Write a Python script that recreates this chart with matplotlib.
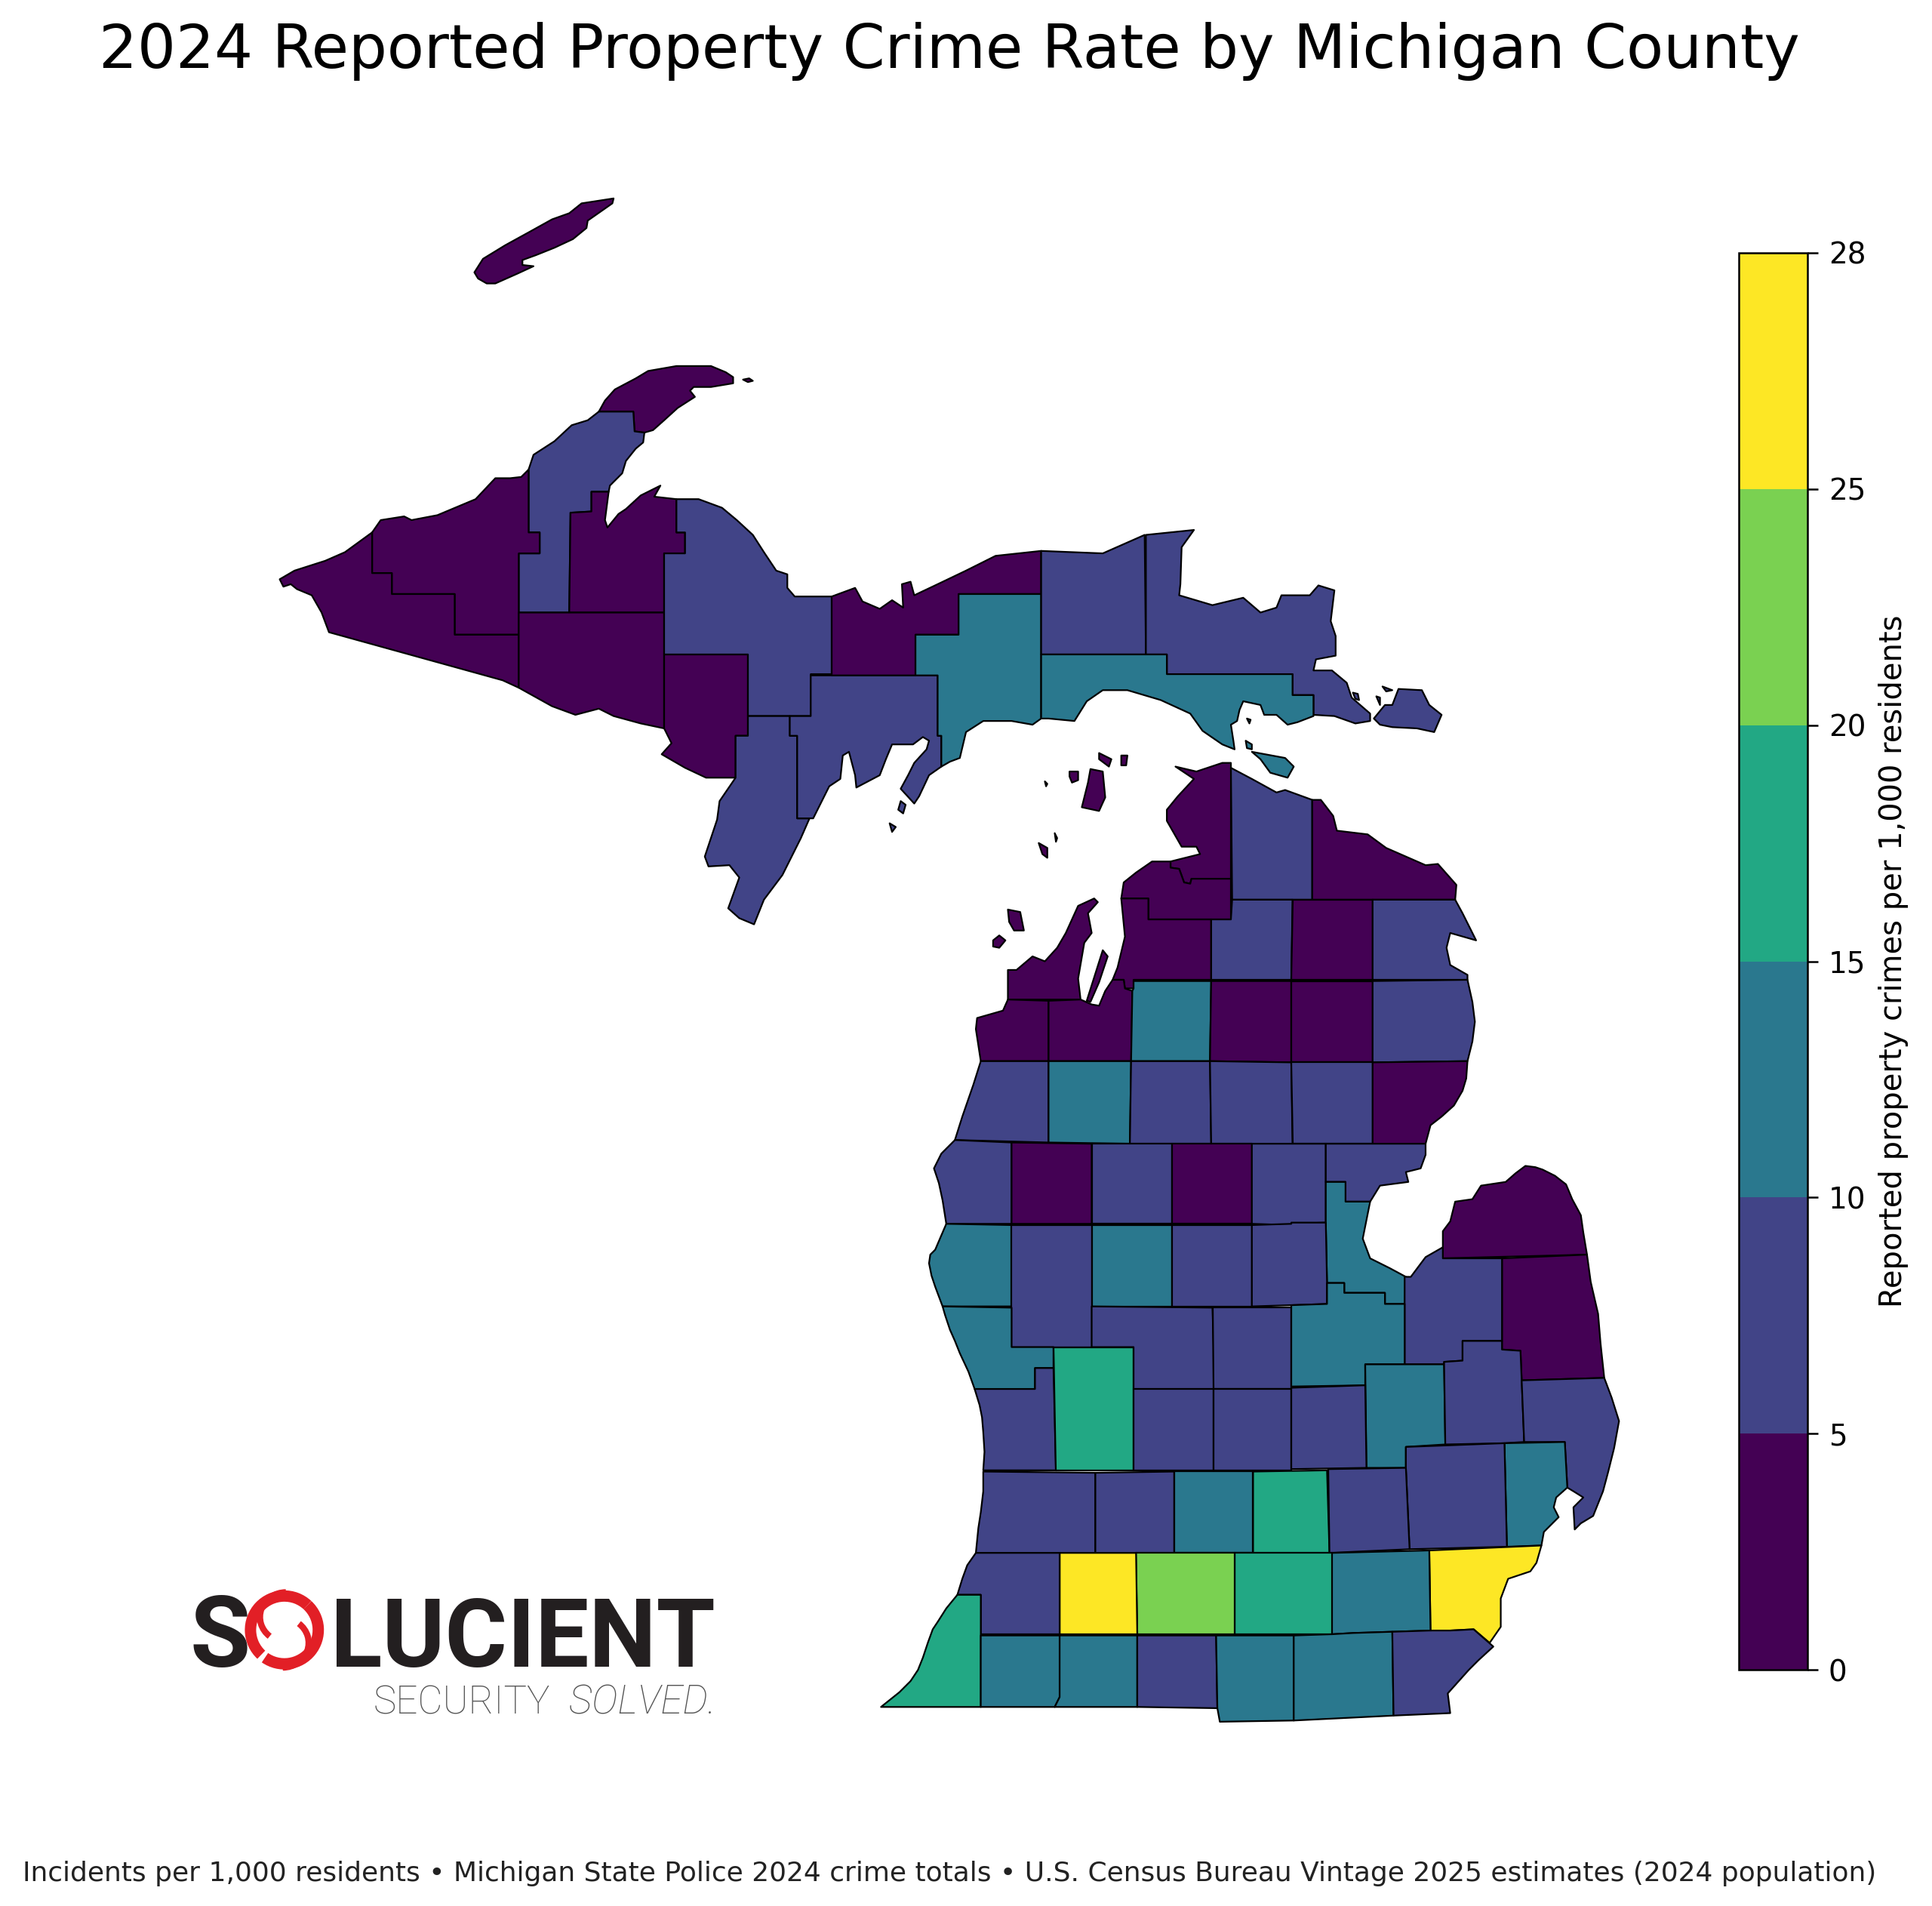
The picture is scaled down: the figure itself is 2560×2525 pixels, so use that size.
import matplotlib
matplotlib.use("Agg")
import matplotlib.pyplot as plt
from matplotlib.collections import PolyCollection
from matplotlib.colors import BoundaryNorm, ListedColormap
from matplotlib.cm import ScalarMappable
from matplotlib.patches import Arc

TITLE = "2024 Reported Property Crime Rate by Michigan County"
FOOTER = ("Incidents per 1,000 residents \u2022 Michigan State Police 2024 crime totals "
          "\u2022 U.S. Census Bureau Vintage 2025 estimates (2024 population)")
CBAR_LABEL = "Reported property crimes per 1,000 residents"
BIN_EDGES = [0, 5, 10, 15, 20, 25, 28]
BIN_COLORS = ["#440154", "#414487", "#2A788E", "#22A884", "#7AD151", "#FDE725"]

# Map geometry (map units, y downward); each county has one or more rings.
SHAPES = {
"Keweenaw": [[(486,334),(491,325),(499,316),(516,307),(526,301),(549,297),(577,297),(589,302),(595,306),(595,311),(577,314),(563,314),(560,317),(564,322),(550,331),(539,341),(530,349),(523,351),(515,350),(514,334)],
             [(603,308),(608,307),(611,309),(607,310)],
             [(385,221),(392,210),(410,199),(430,188),(448,178),(462,173),(472,165),(485,163),(498,161),(497,165),(487,172),(477,179),(476,185),(465,194),(450,201),(435,207),(424,211),(424,215),(433,216),(420,222),(402,230),(395,230),(388,226)]],
"Houghton": [[(486,334),(514,334),(515,350),(523,351),(522,359),(516,364),(508,374),(505,384),(495,394),(494,399),(480,399),(480,415),(463,416),(462,497),(421,497),(421,449),(438,449),(438,432),(429,432),(429,381),(433,369),(450,358),(464,345),(477,341)]],
"Ontonagon": [[(302,432),(309,422),(328,419),(334,422),(355,418),(386,405),(402,388),(414,388),(423,387),(429,381),(429,432),(438,432),(438,449),(421,449),(421,515),(369,515),(369,482),(318,482),(318,465),(302,465)]],
"Gogebic": [[(227,470),(239,463),(264,455),(280,448),(302,432),(302,465),(318,465),(318,482),(369,482),(369,515),(421,515),(421,558),(408,552),(267,513),(261,497),(253,483),(241,478),(236,474),(230,476)]],
"Baraga": [[(480,399),(494,399),(491,422),(493,428),(502,417),(508,413),(520,402),(536,394),(531,403),(549,405),(549,432),(556,432),(556,449),(539,449),(539,497),(462,497),(463,416),(480,415)]],
"Iron": [[(421,497),(539,497),(539,591),(520,587),(498,581),(486,575),(467,580),(448,573),(421,558)]],
"Dickinson": [[(539,531),(607,531),(607,597),(597,597),(597,631),(573,631),(556,623),(537,612),(545,603),(539,591)]],
"Marquette": [[(549,405),(567,405),(586,412),(598,422),(611,434),(620,448),(630,463),(639,466),(639,477),(645,484),(675,484),(675,547),(658,547),(658,581),(607,581),(607,531),(539,531),(539,449),(556,449),(556,432),(549,432)]],
"Menominee": [[(607,581),(641,581),(641,597),(647,597),(647,664),(657,664),(650,680),(635,710),(620,730),(612,750),(600,745),(591,737),(600,712),(592,702),(575,703),(572,695),(582,665),(584,650),(597,631),(597,597),(607,597)]],
"Delta": [[(641,581),(658,581),(658,548),(761,548),(761,597),(764,597),(764,622),(754,629),(746,646),(742,652),(731,640),(737,629),(742,619),(752,608),(754,601),(749,598),(741,604),(724,604),(719,616),(714,629),(695,639),(694,629),(689,610),(684,613),(682,632),(673,638),(660,664),(647,664),(647,597),(641,597)],
          [(722,668),(727,671),(724,675)],[(731,650),(735,653),(733,660),(729,657)]],
"Alger": [[(675,484),(694,477),(700,488),(714,494),(724,487),(733,493),(732,474),(739,472),(742,483),(761,474),(784,463),(808,451),(845,447),(845,482),(778,482),(778,515),(743,515),(743,548),(675,548)]],
"Schoolcraft": [[(778,482),(845,482),(845,583),(838,588),(821,585),(798,585),(784,594),(779,615),(771,618),(764,622),(764,597),(761,597),(761,548),(743,548),(743,515),(778,515)]],
"Luce": [[(845,447),(895,449),(929,434),(930,531),(845,531)]],
"Chippewa": [[(930,434),(969,430),(959,444),(958,474),(957,483),(984,491),(1009,485),(1023,497),(1036,493),(1040,483),(1063,483),(1070,475),(1083,479),(1080,504),(1084,516),(1084,532),(1068,535),(1066,544),(1081,544),(1093,554),(1097,566),(1112,579),(1112,585),(1100,587),(1083,581),(1066,580),(1066,564),(1049,564),(1049,547),(947,547),(947,531),(930,531)],
             [(1115,583),(1124,572),(1130,572),(1135,559),(1154,560),(1160,572),(1170,580),(1164,594),(1150,591),(1130,590),(1120,588)],
             [(1098,562),(1102,563),(1103,568),(1100,567)],[(1122,557),(1130,560),(1125,561)],[(1117,565),(1120,566),(1120,572)]],
"Mackinac": [[(845,531),(947,531),(947,547),(1049,547),(1049,564),(1066,564),(1066,581),(1053,586),(1045,588),(1036,580),(1026,580),(1023,572),(1009,569),(1006,576),(1004,585),(999,588),(1001,601),(1002,608),(992,604),(976,593),(966,579),(942,568),(915,560),(895,560),(882,569),(872,585),(851,583),(845,583)],
             [(1016,610),(1043,615),(1050,622),(1045,631),(1031,627),(1023,616)],[(1011,601),(1016,604),(1016,608),(1012,607)],[(1012,583),(1015,584),(1014,587)]],
"Emmet": [[(954,622),(971,626),(992,619),(999,619),(999,713),(967,713),(966,717),(961,716),(957,705),(950,704),(950,699),(974,693),(971,687),(959,687),(947,666),(947,657),(956,646),(969,632)]],
"Charlevoix": [[(950,699),(950,704),(957,705),(961,716),(966,717),(967,713),(999,713),(999,746),(932,746),(932,729),(910,729),(912,716),(922,708),(935,699)],
               [(885,624),(895,626),(897,647),(892,658),(878,655),(883,635)],[(892,611),(902,616),(900,622),(892,616)],[(910,613),(915,613),(914,621),(910,621)],[(868,626),(875,626),(875,633),(870,635),(868,630)],[(848,634),(850,636),(849,638)]],
"Cheboygan": [[(999,623),(1016,632),(1036,643),(1043,641),(1065,649),(1065,730),(1000,730)]],
"PresqueIsle": [[(1065,649),(1072,649),(1082,662),(1085,674),(1110,677),(1125,688),(1157,702),(1167,701),(1182,718),(1181,730),(1065,730)]],
"Antrim": [[(910,729),(932,729),(932,746),(983,746),(983,795),(920,795),(920,802),(913,802),(912,795),(903,795),(907,785),(913,760)]],
"Otsego": [[(983,746),(999,746),(1000,730),(1049,730),(1048,795),(983,795)]],
"Montmorency": [[(1049,730),(1114,730),(1114,795),(1048,795)]],
"Alpena": [[(1114,730),(1181,730),(1187,741),(1198,763),(1177,757),(1174,769),(1177,783),(1191,791),(1191,795),(1114,795)]],
"Leelanau": [[(818,811),(818,787),(825,787),(838,776),(848,780),(858,769),(865,757),(875,735),(888,729),(891,732),(883,741),(886,757),(880,765),(875,794),(877,811)],
             [(818,738),(828,740),(831,755),(823,755),(819,748)],[(806,763),(811,759),(816,763),(811,769),(806,768)],[(843,684),(850,688),(850,696),(846,693)],[(856,676),(858,680),(857,683)]],
"Benzie": [[(851,812),(818,811),(814,820),(793,826),(792,835),(796,861),(851,861)]],
"GrandTraverse": [[(851,812),(877,811),(886,815),(892,816),(897,804),(903,795),(912,795),(913,802),(919,804),(918,861),(851,861)],
                  [(882,812),(895,771),(899,776),(892,797),(885,813)]],
"Kalkaska": [[(920,796),(983,796),(982,861),(918,861),(919,804),(920,802)]],
"Crawford": [[(983,796),(1048,796),(1048,862),(982,861)]],
"Oscoda": [[(1048,796),(1114,796),(1114,862),(1048,862)]],
"Alcona": [[(1114,796),(1191,795),(1195,813),(1197,829),(1195,845),(1191,861),(1114,862)]],
"Manistee": [[(796,861),(851,861),(851,927),(775,925),(781,906),(790,880)]],
"Wexford": [[(851,861),(918,861),(917,928),(851,927)]],
"Missaukee": [[(918,861),(982,861),(983,928),(917,928)]],
"Roscommon": [[(982,861),(1048,862),(1049,928),(983,928)]],
"Ogemaw": [[(1048,862),(1114,862),(1114,928),(1049,928)]],
"Iosco": [[(1114,862),(1191,861),(1190,875),(1187,885),(1180,897),(1170,906),(1161,913),(1157,928),(1114,928)]],
"Mason": [[(775,925),(821,927),(821,993),(768,993),(765,974),(762,960),(758,948),(764,936)]],
"Lake": [[(821,927),(886,928),(886,993),(821,993)]],
"Osceola": [[(886,928),(951,928),(951,993),(886,993)]],
"Clare": [[(951,928),(1016,928),(1016,993),(951,993)]],
"Gladwin": [[(1016,928),(1076,928),(1076,992),(1048,993),(1048,994),(1016,993)]],
"Arenac": [[(1076,928),(1157,928),(1157,937),(1153,948),(1141,951),(1143,959),(1120,962),(1112,975),(1092,975),(1092,959),(1076,959)]],
"Bay": [[(1076,959),(1092,959),(1092,975),(1112,975),(1106,1005),(1112,1021),(1128,1029),(1141,1036),(1140,1058),(1124,1058),(1124,1049),(1091,1049),(1091,1041),(1077,1041),(1076,992)]],
"Huron": [[(1171,1021),(1171,999),(1177,991),(1181,975),(1195,973),(1202,962),(1222,959),(1230,952),(1238,946),(1246,947),(1252,949),(1262,954),(1271,961),(1276,973),(1283,986),(1285,1000),(1288,1018)]],
"Sanilac": [[(1219,1021),(1288,1018),(1291,1040),(1297,1066),(1299,1090),(1302,1118),(1235,1120),(1234,1096),(1219,1095)]],
"Tuscola": [[(1171,1012),(1171,1021),(1219,1021),(1219,1088),(1187,1088),(1187,1104),(1172,1105),(1172,1107),(1140,1107),(1140,1036),(1145,1036),(1157,1020)]],
"Oceana": [[(768,993),(821,994),(821,1060),(765,1060),(759,1044),(756,1035),(754,1025),(755,1018),(759,1014)]],
"Newaygo": [[(821,994),(886,994),(886,1093),(821,1093)]],
"Mecosta": [[(886,994),(951,994),(951,1060),(886,1060)]],
"Isabella": [[(951,994),(1016,994),(1016,1060),(951,1060)]],
"Midland": [[(1016,994),(1048,993),(1048,992),(1076,992),(1077,1041),(1077,1058),(1048,1059),(1016,1060)]],
"Muskegon": [[(765,1060),(821,1061),(821,1093),(855,1093),(855,1110),(840,1110),(840,1127),(791,1127),(786,1113),(779,1098),(775,1088),(771,1079),(767,1067)]],
"Ottawa": [[(791,1127),(840,1127),(840,1110),(855,1110),(857,1193),(798,1193),(799,1178),(798,1162),(797,1150),(795,1140)]],
"Kent": [[(855,1093),(920,1093),(920,1193),(857,1193)]],
"Montcalm": [[(886,1060),(984,1061),(985,1093),(985,1127),(920,1127),(920,1093),(886,1093)]],
"Gratiot": [[(984,1061),(1048,1061),(1048,1127),(985,1127)]],
"Saginaw": [[(1048,1059),(1077,1058),(1077,1041),(1091,1041),(1091,1049),(1124,1049),(1124,1058),(1140,1058),(1140,1107),(1108,1107),(1108,1124),(1048,1125)]],
"Genesee": [[(1108,1107),(1172,1107),(1173,1172),(1141,1174),(1141,1191),(1109,1191)]],
"Lapeer": [[(1172,1105),(1187,1104),(1187,1088),(1219,1088),(1219,1095),(1234,1096),(1235,1120),(1237,1170),(1221,1171),(1173,1172)]],
"StClair": [[(1235,1120),(1302,1118),(1308,1134),(1314,1153),(1310,1175),(1305,1195),(1301,1210),(1293,1230),(1283,1236),(1278,1241),(1277,1223),(1285,1215),(1277,1210),(1272,1207),(1270,1170),(1237,1170)]],
"Macomb": [[(1221,1171),(1270,1170),(1272,1207),(1263,1215),(1261,1223),(1265,1231),(1253,1243),(1251,1254),(1223,1255)]],
"Oakland": [[(1141,1174),(1221,1171),(1223,1255),(1144,1257),(1141,1191)]],
"Ionia": [[(920,1127),(985,1127),(985,1193),(920,1193)]],
"Clinton": [[(985,1127),(1048,1127),(1048,1193),(985,1193)]],
"Shiawassee": [[(1048,1126),(1108,1124),(1109,1191),(1048,1192)]],
"Allegan": [[(798,1194),(889,1195),(889,1260),(792,1260),(794,1240),(796,1227),(798,1210)]],
"Barry": [[(889,1195),(953,1194),(953,1260),(889,1260)]],
"Eaton": [[(953,1194),(1017,1194),(1017,1260),(953,1260)]],
"Ingham": [[(1017,1194),(1077,1193),(1079,1260),(1017,1260)]],
"Livingston": [[(1078,1192),(1141,1191),(1144,1257),(1079,1260)]],
"Wayne": [[(1160,1258),(1251,1254),(1247,1268),(1242,1275),(1224,1281),(1218,1297),(1218,1320),(1209,1333),(1196,1322),(1177,1323),(1161,1323)]],
"Washtenaw": [[(1081,1260),(1160,1258),(1161,1323),(1098,1325),(1081,1326)]],
"Jackson": [[(1002,1260),(1081,1260),(1081,1326),(1002,1326)]],
"Calhoun": [[(922,1260),(1002,1260),(1002,1326),(923,1326)]],
"Kalamazoo": [[(860,1260),(922,1260),(923,1326),(860,1326)]],
"VanBuren": [[(792,1260),(860,1260),(860,1326),(796,1326),(796,1294),(777,1294),(781,1281),(785,1270)]],
"Berrien": [[(777,1294),(796,1294),(796,1385),(715,1385),(730,1373),(739,1364),(745,1355),(749,1345),(753,1333),(757,1322),(761,1316),(768,1305)]],
"Cass": [[(796,1327),(860,1327),(860,1377),(856,1385),(796,1385)]],
"StJoseph": [[(860,1327),(923,1327),(923,1385),(856,1385),(860,1377)]],
"Branch": [[(923,1327),(987,1327),(988,1386),(923,1385)]],
"Hillsdale": [[(987,1327),(1050,1327),(1050,1396),(990,1397),(988,1386)]],
"Lenawee": [[(1050,1327),(1081,1326),(1098,1325),(1130,1324),(1131,1392),(1050,1396)]],
"Monroe": [[(1130,1324),(1161,1323),(1177,1323),(1196,1322),(1212,1336),(1200,1347),(1192,1355),(1175,1374),(1177,1390),(1131,1392)]],
}

# Rates are estimated within the colour class each county shows.
RATES = {
"Keweenaw":3.5,"Houghton":7.5,"Ontonagon":3.5,"Gogebic":4.0,"Baraga":4.0,"Iron":3.5,"Dickinson":4.5,"Marquette":8.0,
"Menominee":7.0,"Delta":8.0,"Alger":4.0,"Schoolcraft":11.0,"Luce":7.0,"Chippewa":8.5,"Mackinac":12.0,"Emmet":4.5,
"Charlevoix":4.5,"Cheboygan":8.0,"PresqueIsle":3.0,"Antrim":3.5,"Otsego":8.5,"Montmorency":3.5,"Alpena":8.0,
"Leelanau":2.5,"Benzie":3.5,"GrandTraverse":4.8,"Kalkaska":11.0,"Crawford":4.5,"Oscoda":3.0,"Alcona":6.0,
"Manistee":7.5,"Wexford":12.0,"Missaukee":6.0,"Roscommon":8.5,"Ogemaw":8.0,"Iosco":4.5,"Mason":8.0,"Lake":4.0,
"Osceola":7.0,"Clare":4.5,"Gladwin":6.5,"Arenac":7.5,"Bay":13.0,"Huron":3.5,"Sanilac":4.0,"Tuscola":6.5,
"Oceana":10.5,"Newaygo":7.5,"Mecosta":11.0,"Isabella":9.5,"Midland":7.5,"Muskegon":14.0,"Ottawa":8.0,"Kent":17.0,
"Montcalm":8.5,"Gratiot":8.0,"Saginaw":13.5,"Genesee":14.0,"Lapeer":6.5,"StClair":9.5,"Macomb":14.0,"Oakland":9.5,
"Ionia":7.5,"Clinton":6.0,"Shiawassee":8.0,"Allegan":7.5,"Barry":6.0,"Eaton":11.0,"Ingham":18.5,"Livingston":5.5,
"Wayne":27.0,"Washtenaw":13.0,"Jackson":17.5,"Calhoun":22.5,"Kalamazoo":26.0,"VanBuren":9.0,"Berrien":19.0,"Cass":10.5,
"StJoseph":11.5,"Branch":9.0,"Hillsdale":11.0,"Lenawee":11.5,"Monroe":9.5,
}

plt.rcParams["font.family"] = "DejaVu Sans"
fig = plt.figure(figsize=(12.8, 12.625), dpi=200, facecolor="white")
ax = fig.add_axes([0, 0, 1, 1])
ax.set_xlim(0, 1568)
ax.set_ylim(1546.5, 0)
ax.axis("off")

cmap = ListedColormap(BIN_COLORS)
norm = BoundaryNorm(BIN_EDGES, cmap.N)
rings, values = [], []
for name, parts in SHAPES.items():
    for ring in parts:
        rings.append(ring)
        values.append(RATES[name])
coll = PolyCollection(rings, array=values, cmap=cmap, norm=norm, edgecolors="black", linewidths=0.8)
ax.add_collection(coll)

fig.text(0.4914, 0.9732, TITLE, ha="center", va="center", fontsize=28.9, color="black")
fig.text(0.4914, 0.0172, FOOTER, ha="center", va="center", fontsize=12.95, color="#222222")

# Logo
DARK = "#231f20"
GREY = "#555555"
RED = "#e21f26"
ax.text(154, 1352.5, "S", fontsize=47, fontweight="bold", family="Roboto", color=DARK)
ax.text(268, 1352.5, "LUCIENT", fontsize=45.5, fontweight="bold", family="Roboto", color=DARK)
ax.text(303, 1390.5, "SECURITY", fontsize=18.4, family="Roboto", fontweight="light", color=GREY)
ax.text(462, 1390.5, "SOLVED.", fontsize=19, family="Roboto", fontweight="light", style="italic", color=GREY)
ax.add_patch(Arc((230.8, 1322.5), 55, 55, theta1=133, theta2=313, lw=5.4, color=RED))
ax.add_patch(Arc((230.8, 1322.5), 55, 55, theta1=-47, theta2=125, lw=5.4, color=RED))
ax.add_patch(Arc((232, 1312), 42, 40, theta1=130, theta2=270, lw=3, color=RED))
ax.add_patch(Arc((229.5, 1333), 42, 40, theta1=-50, theta2=90, lw=3, color=RED))

cax = fig.add_axes([1411/1568, 1-1355/1546.5, 56/1568, 1150/1546.5])
cb = fig.colorbar(ScalarMappable(norm=norm, cmap=cmap), cax=cax, ticks=BIN_EDGES, spacing="uniform")
cb.ax.tick_params(labelsize=14, length=5, width=0.9, pad=5)
cb.set_label(CBAR_LABEL, fontsize=14.4, labelpad=6)
cb.outline.set_linewidth(0.9)

fig.savefig("out.png", dpi=200)
